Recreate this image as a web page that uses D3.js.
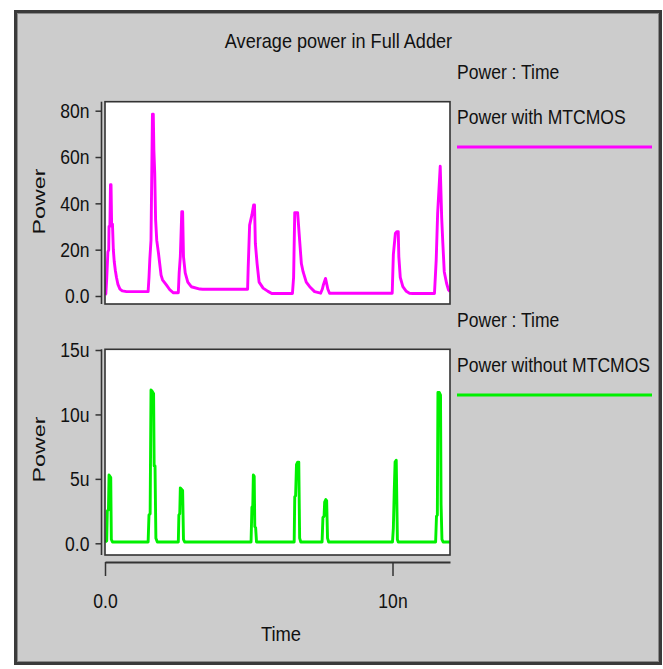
<!DOCTYPE html>
<html><head><meta charset="utf-8">
<script src="https://cdn.jsdelivr.net/npm/d3@7"></script>
<style>
html,body{margin:0;padding:0;background:#fff;}
svg{display:block;}
text{font-family:"Liberation Sans",Arial,sans-serif;fill:#111;}
</style></head>
<body>
<svg id="c" width="663" height="669"></svg>
<script>
// ---- data (time in ns) ----
const titleText = "Average power in Full Adder";
const seriesNames = ["Power with MTCMOS", "Power without MTCMOS"];
const xTickValues = [0, 10];
const xTickLabels = ["0.0", "10n"];
const topTickValues = [0, 20, 40, 60, 80];
const topTickLabels = ["0.0", "20n", "40n", "60n", "80n"];
const botTickValues = [0, 5, 10, 15];
const botTickLabels = ["0.0", "5u", "10u", "15u"];

// Power with MTCMOS (nW)
const withTime = [0,0.03,0.06,0.1,0.13,0.14,0.17,0.19,0.21,0.23,0.26,0.29,0.32,0.36,0.4,0.45,0.52,0.6,0.75,1.5,
 1.53,1.56,1.6,1.65,1.68,1.7,1.73,1.76,1.8,1.86,1.95,2.0,2.14,2.26,2.38,2.55,
 2.58,2.62,2.67,2.7,2.73,2.79,2.88,3.0,3.3,3.4,4.96,
 4.98,5.03,5.11,5.17,5.2,5.23,5.29,5.36,5.5,5.67,5.8,6.52,
 6.56,6.6,6.63,6.7,6.77,6.83,6.89,7.0,7.12,7.29,7.5,
 7.56,7.6,7.67,7.75,7.81,9.99,
 10.03,10.1,10.15,10.2,10.22,10.27,10.36,10.48,10.59,10.7,11.46,
 11.52,11.57,11.66,11.71,11.75,11.8,11.88,11.95,12];
const withPower = [0.5,1,7.6,19,20,30,30,48,48,31,31,20,15,11,8,5,3,2.2,1.9,1.9,
 8,16,24,78.5,78.5,63,53,33,24,18.5,9,7,4.7,2.6,1.4,1.4,
 10,17,36.4,36.4,17,10,6,4,3,2.9,2.9,
 12,30.6,35,39.3,39.3,22.7,14,6,3.4,2,1.1,1.1,
 8,36,36,36,24,14,10.5,6,4,1.9,1.2,
 3,5,7.6,3,1.2,1.2,
 18,27,27.8,27.8,17,8,4,2,1.2,1.1,1.1,
 15.5,35.7,56,34,23,10.5,5.5,2.6,2];

// Power without MTCMOS (uW)
const withoutTime = [0,0.06,0.08,0.12,0.14,0.17,0.2,0.22,0.26,1.5,
 1.53,1.57,1.6,1.64,1.69,1.71,1.74,1.77,1.82,2.55,
 2.57,2.6,2.62,2.66,2.7,2.73,2.77,5.08,
 5.11,5.14,5.16,5.19,5.21,5.24,5.27,6.58,
 6.6,6.63,6.66,6.7,6.74,6.77,6.81,7.55,
 7.58,7.62,7.64,7.68,7.71,7.74,7.78,10.0,
 10.03,10.06,10.09,10.13,10.17,10.2,11.5,
 11.53,11.56,11.58,11.63,11.67,11.69,11.72,11.76,12];
const withoutPower = [0.1,0.2,2.5,2.6,5.3,5.2,5.1,0.3,0.1,0.1,
 2.2,2.3,11.9,11.8,11.6,6,6,0.4,0.1,0.1,
 2.2,2.3,4.3,4.2,4.1,0.3,0.1,0.1,
 2.8,2.9,5.3,5.2,1.3,1.2,0.1,0.1,
 3.6,3.7,6.1,6.3,6.3,0.4,0.1,0.1,
 2.0,2.1,3.2,3.4,3.3,0.4,0.1,0.1,
 1.2,4,6.3,6.45,0.3,0.1,0.1,
 2.1,2.2,11.7,11.7,11.5,3,0.3,0.1,0.1];

// ---- drawing ----
const svg = d3.select("#c");
const FS = 19.5, SX = 0.9;
function label(g, x, y, s, anchor, size, sx) {
  return g.append("text")
    .attr("transform", `translate(${x},${y}) scale(${sx||SX},1)`)
    .attr("text-anchor", anchor || "start")
    .style("font-size", (size||FS) + "px")
    .text(s);
}

// frame
svg.append("rect").attr("x",15.5).attr("y",11.5).attr("width",645).attr("height",652)
  .attr("fill","#cccccc").attr("stroke","#3a3a3a").attr("stroke-width",3);
svg.append("rect").attr("x",17.5).attr("y",13.5).attr("width",641).attr("height",648)
  .attr("fill","none").attr("stroke","#8a8a8a").attr("stroke-width",1);

const x = d3.scaleLinear().domain([0, 12]).range([105, 450]);
const yTop = d3.scaleLinear().domain([0, 80]).range([296, 110.7]);
const yBot = d3.scaleLinear().domain([0, 15]).range([543.3, 350]);

label(svg, 338.5, 48, titleText, "middle", FS, 0.93);

const panels = [
  {y: yTop, top: 101.7, bottom: 304, ticks: topTickValues, labels: topTickLabels,
   t: withTime, v: withPower, color: "#ff00ff", name: seriesNames[0],
   legY1: 79, legY2: 124, lineY: 147, labY: 201.5, id: "a"},
  {y: yBot, top: 349.3, bottom: 555, ticks: botTickValues, labels: botTickLabels,
   t: withoutTime, v: withoutPower, color: "#00f000", name: seriesNames[1],
   legY1: 327, legY2: 371.5, lineY: 395, labY: 449.5, id: "b"}
];

panels.forEach(p => {
  const g = svg.append("g");
  g.append("clipPath").attr("id", "clip" + p.id).append("rect")
    .attr("x", 105).attr("y", p.top).attr("width", 345).attr("height", p.bottom - p.top);
  g.append("rect").attr("x", 105).attr("y", p.top).attr("width", 345).attr("height", p.bottom - p.top)
    .attr("fill", "#fff");
  const data = p.t.map((t, i) => [t, p.v[i]]);
  const line = d3.line().x(d => x(d[0])).y(d => p.y(d[1]));
  g.append("path").datum(data).attr("d", line).attr("clip-path", `url(#clip${p.id})`)
    .attr("fill", "none").attr("stroke", p.color).attr("stroke-width", 2.9)
    .attr("stroke-linejoin", "round");
  g.append("rect").attr("x", 105).attr("y", p.top).attr("width", 345).attr("height", p.bottom - p.top)
    .attr("fill", "none").attr("stroke", "#333").attr("stroke-width", 1.6);

  // y axis
  const ax = g.append("g").attr("transform", "translate(101.5,0)")
    .call(d3.axisLeft(p.y).tickValues(p.ticks).tickFormat((d, i) => p.labels[i]).tickSize(6).tickSizeOuter(0));
  ax.select(".domain").remove();
  ax.selectAll(".tick line").attr("stroke", "#333").attr("stroke-width", 1.5);
  ax.selectAll(".tick text").attr("x", null).attr("dy", null)
    .attr("transform", `translate(-12,6.8) scale(${SX},1)`)
    .style("font-size", FS + "px").attr("fill", "#111").attr("font-family", null);
  g.append("line").attr("x1", 101.5).attr("x2", 101.5).attr("y1", p.top).attr("y2", p.bottom)
    .attr("stroke", "#333").attr("stroke-width", 1.6);

  // y label
  g.append("text").attr("transform", `translate(45,${p.labY}) rotate(-90) scale(1.37,1)`)
    .attr("text-anchor", "middle").style("font-size", "17px").text("Power");

  // legend
  label(svg, 457, p.legY1, "Power : Time", "start");
  label(svg, 457, p.legY2, p.name, "start");
  svg.append("line").attr("x1", 457).attr("x2", 652).attr("y1", p.lineY).attr("y2", p.lineY)
    .attr("stroke", p.color).attr("stroke-width", 3);
});

// x axis
const xa = svg.append("g").attr("transform", "translate(0,562)")
  .call(d3.axisBottom(x).tickValues(xTickValues).tickFormat((d, i) => xTickLabels[i]).tickSize(14).tickSizeOuter(0));
xa.select(".domain").attr("stroke", "#333").attr("stroke-width", 2);
xa.selectAll(".tick line").attr("stroke", "#333").attr("stroke-width", 1.5);
xa.selectAll(".tick text").attr("y", null).attr("dy", null)
  .attr("transform", `translate(0,45.5) scale(${SX},1)`)
  .style("font-size", FS + "px").attr("fill", "#111").attr("font-family", null);
label(svg, 281, 641, "Time", "middle", 20, 0.92);
</script>
</body></html>
